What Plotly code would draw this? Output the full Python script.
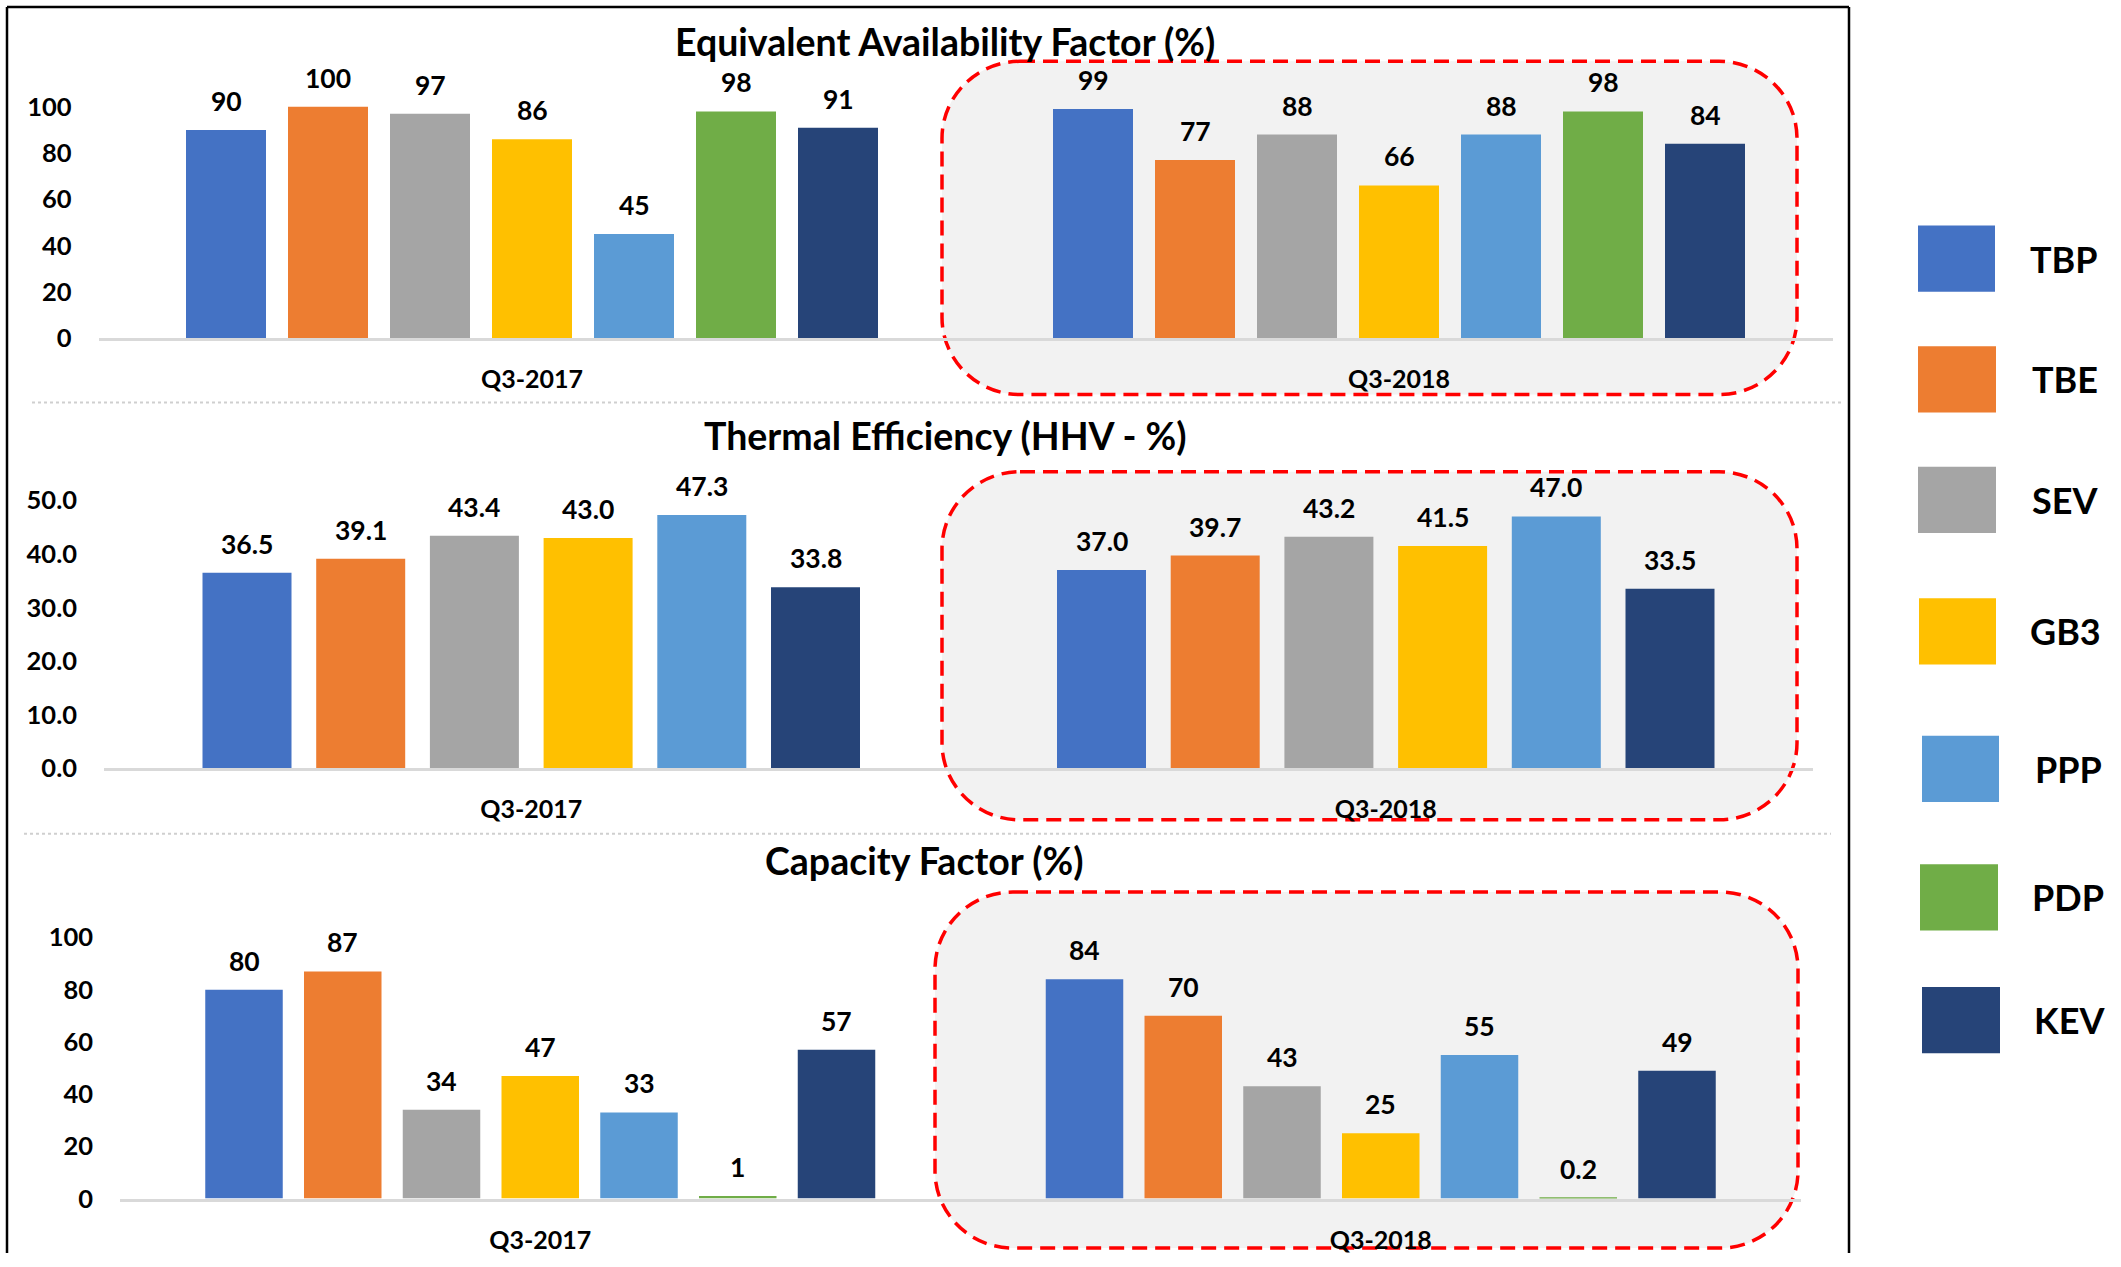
import plotly.graph_objects as go

W, H = 2121, 1267

# ---------------- data ----------------
stations = ["TBP", "TBE", "SEV", "GB3", "PPP", "PDP", "KEV"]
station_colors = ["#4472C4", "#ED7D31", "#A5A5A5", "#FFC000", "#5B9BD5", "#70AD47", "#264478"]
quarters = ["Q3-2017", "Q3-2018"]

eaf_2017 = [90, 100, 97, 86, 45, 98, 91]
eaf_2018 = [99, 77, 88, 66, 88, 98, 84]

te_stations = ["TBP", "TBE", "SEV", "GB3", "PPP", "KEV"]
te_2017 = [36.5, 39.1, 43.4, 43.0, 47.3, 33.8]
te_2018 = [37.0, 39.7, 43.2, 41.5, 47.0, 33.5]

cf_2017 = [80, 87, 34, 47, 33, 1, 57]
cf_2018 = [84, 70, 43, 25, 55, 0.2, 49]

titles = ["Equivalent Availability Factor (%)", "Thermal Efficiency (HHV - %)", "Capacity Factor (%)"]
eaf_ticks = [0, 20, 40, 60, 80, 100]
te_ticks = [0, 10, 20, 30, 40, 50]
cf_ticks = [0, 20, 40, 60, 80, 100]

# ---------------- geometry (pixels) ----------------
FONT = "Lato, 'Liberation Sans', Arial, sans-serif"
color_of = dict(zip(stations, station_colors))


def px(x):
    return x / W


def py(y):
    return 1 - y / H


panels = [
    dict(names=stations, vals=[eaf_2017, eaf_2018], ticks=eaf_ticks, fmt=lambda v: f"{v:g}", tfmt=lambda v: f"{v:g}",
         x0=98.5, x1=1832.5, base=342, ppu=2.34, ymax=120, pitch=102, barw=80,
         title_xy=(945, 42), rect=(942, 62, 1797, 399)),
    dict(names=te_stations, vals=[te_2017, te_2018], ticks=te_ticks, fmt=lambda v: f"{v:.1f}", tfmt=lambda v: f"{v:.1f}",
         x0=104, x1=1813, base=777, ppu=5.42, ymax=60, pitch=113.7, barw=89,
         title_xy=(945, 440), rect=(942, 477, 1797, 829)),
    dict(names=stations, vals=[cf_2017, cf_2018], ticks=cf_ticks, fmt=lambda v: f"{v:g}", tfmt=lambda v: f"{v:g}",
         x0=120, x1=1801, base=1212, ppu=2.64, ymax=120, pitch=98.75, barw=77.5,
         title_xy=(924, 870), rect=(935, 902, 1798, 1262)),
]

fig = go.Figure()
shapes = []
annotations = []


def rounded_path(x0, y0, x1, y1, r):
    k = 0.5523 * r

    def P(x, y):
        return f"{px(x):.6f},{py(y):.6f}"
    return (f"M {P(x0 + r, y0)} L {P(x1 - r, y0)} "
            f"C {P(x1 - r + k, y0)} {P(x1, y0 + r - k)} {P(x1, y0 + r)} "
            f"L {P(x1, y1 - r)} "
            f"C {P(x1, y1 - r + k)} {P(x1 - r + k, y1)} {P(x1 - r, y1)} "
            f"L {P(x0 + r, y1)} "
            f"C {P(x0 + r - k, y1)} {P(x0, y1 - r + k)} {P(x0, y1 - r)} "
            f"L {P(x0, y0 + r)} "
            f"C {P(x0, y0 + r - k)} {P(x0 + r - k, y0)} {P(x0 + r, y0)} Z")


layout_axes = {}
for pi, p in enumerate(panels):
    sfx = "" if pi == 0 else str(pi + 1)
    xa, ya = "x" + sfx, "y" + sfx
    unit = (p["x1"] - p["x0"]) / 2
    n = len(p["names"])
    width = p["barw"] / unit
    for i, name in enumerate(p["names"]):
        off = (i - (n - 1) / 2) * p["pitch"] / unit
        yv = [p["vals"][0][i], p["vals"][1][i]]
        xv = [0 + off, 1 + off]
        fig.add_trace(go.Bar(x=xv, y=yv, width=width, marker=dict(color=color_of[name], line=dict(width=0)),
                             xaxis=xa, yaxis=ya, showlegend=False, name=name, hoverinfo="y+name"))
        for xx, v in zip(xv, yv):
            annotations.append(dict(x=xx, y=v, xref=xa, yref=ya, text=p["fmt"](v), showarrow=False,
                                    yanchor="middle", yshift=29,
                                    font=dict(family=FONT, size=26.5, color="black", weight="bold")))
    top_px = p["base"] - p["ymax"] * p["ppu"]
    layout_axes["xaxis" + sfx] = dict(domain=[px(p["x0"]), px(p["x1"])], anchor=ya, range=[-0.5, 1.5],
                                      tickvals=[0, 1], ticktext=quarters, showgrid=False, zeroline=False,
                                      showline=True, linecolor="#d9d9d9", linewidth=3, ticks="",
                                      ticklabelstandoff=17,
                                      tickfont=dict(family=FONT, size=25, color="black", weight="bold"),
                                      fixedrange=True)
    layout_axes["yaxis" + sfx] = dict(domain=[py(p["base"]), py(top_px)], anchor=xa, range=[0, p["ymax"]],
                                      tickvals=p["ticks"], ticktext=[p["tfmt"](t) for t in p["ticks"]],
                                      showgrid=False, zeroline=False, showline=False, ticks="",
                                      ticklabelstandoff=26,
                                      tickfont=dict(family=FONT, size=25.5, color="black", weight="bold"),
                                      fixedrange=True)
    tx, ty = p["title_xy"]
    annotations.append(dict(x=px(tx), y=py(ty), xref="paper", yref="paper", text=titles[pi], showarrow=False,
                            xanchor="center", yanchor="middle",
                            font=dict(family=FONT, size=37.5, color="black", weight="bold")))
    rx0, ry0, rx1, ry1 = p["rect"]
    shapes.append(dict(type="path", path=rounded_path(rx0, ry0, rx1, ry1, 78), xref="paper", yref="paper",
                       fillcolor="#f2f2f2", line=dict(color="#ff0000", width=3.5, dash="15px,8px"), layer="below"))

for (sx0, sx1, sy) in [(32, 1843, 407), (24, 1831, 843)]:
    shapes.append(dict(type="line", xref="paper", yref="paper", x0=px(sx0), x1=px(sx1), y0=py(sy), y1=py(sy),
                       line=dict(color="#cfcfcf", width=2, dash="dot"), layer="below"))

# outer frame (left, top, right) kept inside the page
for (a, b, c, d) in [(7, 7, 7, H), (7, 7, 1849, 7), (1849, 7, 1849, H)]:
    shapes.append(dict(type="line", xref="paper", yref="paper", x0=px(a), y0=py(b), x1=px(c), y1=py(d),
                       line=dict(color="black", width=2.5)))

legend_boxes = [(1918, 228, 1995, 295), (1918, 350, 1996, 417), (1918, 472, 1996, 539), (1919, 605, 1996, 672),
                (1922, 744, 1999, 811), (1920, 874, 1998, 941), (1922, 998, 2000, 1065)]
legend_text_x = [2064, 2065, 2065, 2065, 2068, 2068, 2069]
for name, (a, b, c, d), tx in zip(stations, legend_boxes, legend_text_x):
    shapes.append(dict(type="rect", xref="paper", yref="paper", x0=px(a), y0=py(b), x1=px(c), y1=py(d),
                       fillcolor=color_of[name], line=dict(width=0)))
    annotations.append(dict(x=px(tx), y=py((b + d) / 2), xref="paper", yref="paper", text=name, showarrow=False,
                            xanchor="center", yanchor="middle",
                            font=dict(family=FONT, size=36, color="black", weight="bold")))

fig.update_layout(width=W, height=H, margin=dict(l=0, r=0, t=0, b=0), autosize=False,
                  paper_bgcolor="white", plot_bgcolor="rgba(0,0,0,0)",
                  shapes=shapes, annotations=annotations, showlegend=False, **layout_axes)

fig.write_html("out.html", config={"displayModeBar": False},
               post_script="document.body.style.margin='0';document.body.style.overflow='hidden';")
